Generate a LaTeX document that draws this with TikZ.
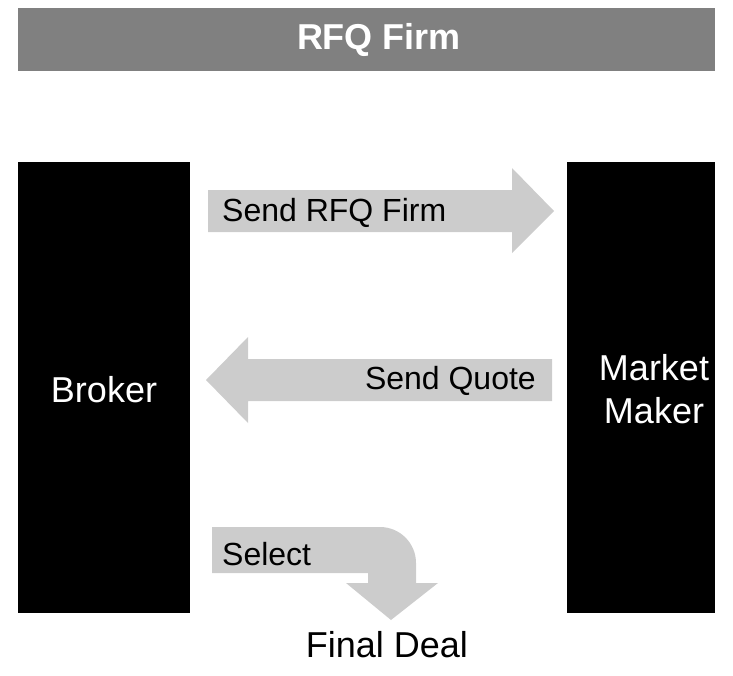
\documentclass[tikz,border=0pt]{standalone}
\usepackage{fontspec}
\setmainfont{Liberation Sans}
\begin{document}
\begin{tikzpicture}[x=1pt,y=-1pt,
  blk/.style={fill=black,draw=none},
  barrow/.style={fill=arrowgray,draw=none},
  lbl/.style={inner sep=0pt,font=\fontsize{32}{38}\selectfont,text=black},
  big/.style={inner sep=0pt,font=\fontsize{36}{43}\selectfont,align=center}]
\definecolor{arrowgray}{RGB}{204,204,204}
\definecolor{bargray}{RGB}{128,128,128}
\useasboundingbox (0,0) rectangle (733,675);
% title bar
\fill[bargray] (18,8) rectangle (715,71);
\node[inner sep=0pt,text=white,font=\fontsize{36}{43}\selectfont\bfseries] (title) at (379,40) {RFQ Firm};
% boxes
\fill[blk] (18,162) rectangle (190,613);
\node[big,text=white] (broker) at (104,390) {Broker};
\fill[blk] (567,162) rectangle (715,613);
\node[big,text=white] (mm) at (654,389) {Market\\Maker};
% arrow 1 (right)
\fill[barrow] (208,190) -- (512,190) -- (512,168) -- (554,211) -- (512,253) -- (512,232) -- (208,232) -- cycle;
\node[lbl,anchor=west] (send) at (222,213) {Send RFQ Firm};
% arrow 2 (left)
\fill[barrow] (552,359) -- (248,359) -- (248,337) -- (206,380) -- (248,423) -- (248,401) -- (552,401) -- cycle;
\node[lbl,anchor=east] (quote) at (536,381) {Send Quote};
% curved arrow
\fill[barrow] (212,527) -- (380,527) arc[start angle=-90,end angle=0,radius=36] -- (416,583) -- (438,583) -- (391,620) -- (346,583) -- (368,583) -- (368,573) -- (212,573) -- cycle;
\node[lbl,anchor=west] (select) at (222,554) {Select};
\node[big] (deal) at (387,645) {Final Deal};
\end{tikzpicture}
\end{document}
